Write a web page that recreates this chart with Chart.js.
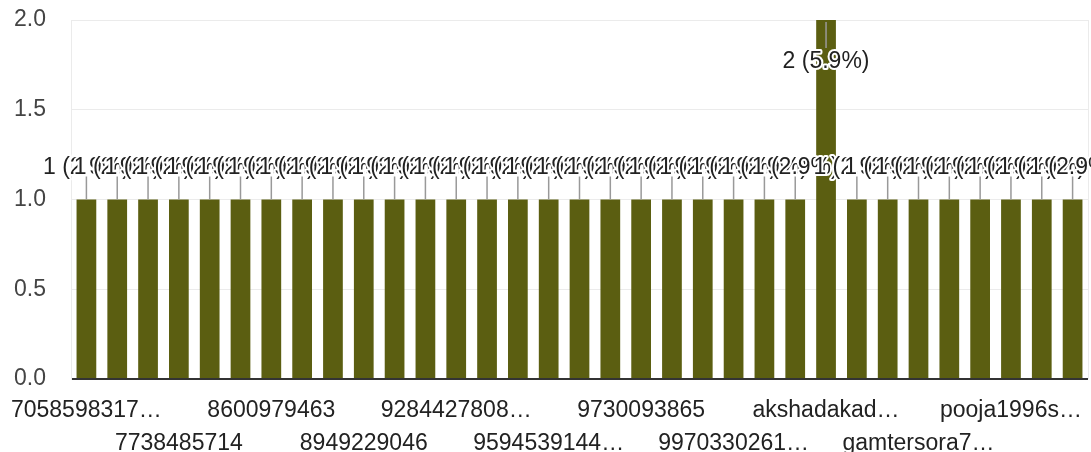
<!DOCTYPE html>
<html>
<head>
<meta charset="utf-8">
<script src="https://cdn.jsdelivr.net/npm/chart.js@4/dist/chart.umd.min.js"></script>
<style>
  html, body { margin: 0; padding: 0; background: #fff; }
  #wrap { width: 1091px; height: 452px; position: relative; }
</style>
</head>
<body>
<div id="wrap"><canvas id="chart"></canvas></div>
<script>
// answers, sorted as the form shows them (only every third label is drawn)
const answers = [
    '7058598317…', '7066241935', '7219843520', '7738485714', '7745012396',
    '8007652143', '8600979463', '8788314509', '8830467215', '8949229046',
    '9021578634', '9175230846', '9284427808…', '9322618470', '9404157329',
    '9594539144…', '9623087415', '9665214078', '9730093865', '9822740516',
    '9850361247', '9970330261…', 'aartipatil…', 'ajaymore…', 'akshadakad…',
    'anjalishin…', 'dhanashri…', 'gamtersora7…', 'kiranjadha…', 'mayuriraut…',
    'pooja1996s…', 'priyakale…', 'snehadesai…'
];
const counts = [
    1, 1, 1, 1, 1, 1, 1, 1, 1, 1,
    1, 1, 1, 1, 1, 1, 1, 1, 1, 1,
    1, 1, 1, 1, 2, 1, 1, 1, 1, 1,
    1, 1, 1
];
const yTicks = [0, 0.5, 1, 1.5, 2];

const FONT = '"Liberation Sans", Arial, sans-serif';
const total = counts.reduce((a, b) => a + b, 0);

// value labels with a stem, drawn like the google forms annotations
const annotate = {
    id: 'annotate',
    afterDatasetsDraw(chart) {
        const { ctx, chartArea } = chart;
        const meta = chart.getDatasetMeta(0);
        ctx.save();

        // right edge of the plot
        ctx.strokeStyle = '#ebebeb';
        ctx.lineWidth = 1;
        ctx.beginPath();
        ctx.moveTo(chartArea.right + 0.5, chartArea.top);
        ctx.lineTo(chartArea.right + 0.5, chartArea.bottom);
        ctx.stroke();

        const items = meta.data.map((bar, i) => {
            const inside = bar.y - 26 - 17 < chartArea.top;
            return { x: bar.x, y: bar.y, inside, text: counts[i] + ' (' + (counts[i] / total * 100).toFixed(1) + '%)' };
        });

        ctx.strokeStyle = '#999';
        ctx.lineWidth = 1.5;
        items.forEach(it => {
            ctx.beginPath();
            if (it.inside) {
                ctx.moveTo(it.x, it.y + 2);
                ctx.lineTo(it.x, it.y + 28);
            } else {
                ctx.moveTo(it.x, it.y);
                ctx.lineTo(it.x, it.y - 23);
            }
            ctx.stroke();
        });

        ctx.font = '23px ' + FONT;
        ctx.textAlign = 'center';
        ctx.textBaseline = 'alphabetic';
        ctx.lineJoin = 'round';
        items.forEach(it => {
            const ty = it.inside ? it.y + 48 : it.y - 26;
            ctx.strokeStyle = '#fff';
            ctx.lineWidth = 4;
            ctx.strokeText(it.text, it.x, ty);
            ctx.fillStyle = '#222';
            ctx.fillText(it.text, it.x, ty);
        });
        ctx.restore();
    }
};

const ctx = document.getElementById('chart').getContext('2d');
new Chart(ctx, {
    type: 'bar',
    data: {
        labels: answers,
        datasets: [{
            data: counts,
            backgroundColor: '#5b5e11',
            barPercentage: 0.64,
            categoryPercentage: 1
        }]
    },
    options: {
        responsive: true,
        maintainAspectRatio: false,
        animation: false,
        layout: { padding: { top: 0, right: 3, left: 0, bottom: 0 } },
        plugins: {
            legend: { display: false },
            tooltip: { enabled: false }
        },
        scales: {
            x: {
                grid: { display: false },
                border: { display: false },
                afterFit: s => { s.height = 73; },
                ticks: {
                    autoSkip: false,
                    maxRotation: 0,
                    minRotation: 0,
                    padding: 8,
                    color: '#222',
                    font: { family: FONT, size: 23, lineHeight: 1.4 },
                    callback: (v, i) => {
                        if (i % 3 !== 0) return '';
                        return (i / 3) % 2 === 0 ? [answers[i]] : ['', answers[i]];
                    }
                }
            },
            y: {
                min: 0,
                max: 2,
                afterFit: s => {
                    s.width = 71;
                    s.paddingTop = 20;
                    s.paddingBottom = 0;
                },
                afterBuildTicks: s => { s.ticks = yTicks.map(v => ({ value: v })); },
                border: { display: true, color: '#ebebeb' },
                grid: {
                    drawTicks: false,
                    color: c => c.tick.value === 0 ? '#333' : '#ebebeb',
                    lineWidth: c => c.tick.value === 0 ? 2 : 1
                },
                ticks: {
                    padding: 25,
                    color: '#444',
                    font: { family: FONT, size: 23 },
                    callback: v => v.toFixed(1)
                }
            }
        }
    },
    plugins: [annotate]
});
</script>
</body>
</html>
